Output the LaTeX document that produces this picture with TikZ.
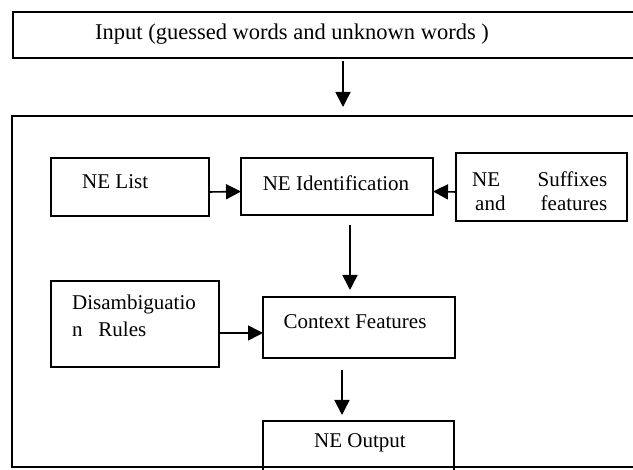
\documentclass[tikz,border=0pt]{standalone}
\usepackage{fontspec}
\setmainfont{Liberation Serif}
\usetikzlibrary{arrows.meta}
\newcommand*\boxrule{1.3pt}
\newcommand*\textsize{\fontsize{21}{24}\selectfont}
\tikzset{
    unitbox/.style  = {draw, line width=\boxrule, inner sep=0pt, outer sep=0pt,
                      anchor=north west},
    boxtext/.style  = {inner sep=0pt, font=\textsize, align=left},
    flow/.style     = {line width=1.6pt, -{Triangle[length=15pt,width=15pt]}},
  }
\begin{document}
\begin{tikzpicture}[x=1pt,y=-1pt]
        \useasboundingbox (0,0) rectangle (633,470);
        \clip (0,0) rectangle (633,470);

        % input strip and big frame run past the right edge
        \node[unitbox, minimum width=650, minimum height=46] (input) at (13,12) {};
        \node[boxtext, anchor=west, font=\fontsize{22.5}{26}\selectfont] (inputtext) at (95,34)
            {Input (guessed words and unknown words )};
        \node[unitbox, minimum width=650, minimum height=351] (frame) at (12,116) {};

        % row 1: list, identification, suffixes
        \node[unitbox, minimum width=158, minimum height=58] (nelist) at (51,158) {};
        \node[boxtext, anchor=west] (nelisttext) at (82,182) {NE List};
        \node[unitbox, minimum width=192, minimum height=57] (neid) at (241,158) {};
        \node[boxtext] (neidtext) at (336,183) {NE Identification};
        \node[unitbox, minimum width=171, minimum height=68] (suffix) at (456,153) {};
        \node[boxtext, anchor=west] (suffixtext) at (472,191)
            {\makebox[135pt]{NE\hfill Suffixes}\\\hspace*{3pt}\makebox[132pt]{and\hfill features}};

        % row 2: rules and context
        \node[unitbox, minimum width=168, minimum height=86] (disamb) at (51,281) {};
        \node[boxtext, anchor=west, font=\fontsize{21}{27}\selectfont] (disambtext) at (72,316)
            {Disambiguatio\\n\ \ \ Rules};
        \node[unitbox, minimum width=192, minimum height=61] (context) at (263,297) {};
        \node[boxtext] (contexttext) at (355,322) {Context Features};

        % output, cut by the bottom edge
        \node[unitbox, minimum width=191, minimum height=60] (neout) at (263,421) {};
        \node[boxtext] (neouttext) at (360,443) {NE Output};

        % arrows
        \draw[flow] ([xshift=5pt,yshift=-3pt]input.south) -- ([xshift=6pt,yshift=9pt]frame.north);
        \draw[flow] ([yshift=-5pt]nelist.east) -- ([yshift=-5pt]neid.west);
        \draw[flow] ([yshift=-5pt]suffix.west) -- ([yshift=-5pt]neid.east);
        \draw[flow] ([xshift=13pt,yshift=-10pt]neid.south) -- ([xshift=-9pt,yshift=7pt]context.north);
        \draw[flow] ([yshift=-9pt]disamb.east) -- ([yshift=-5.5pt]context.west);
        \draw[flow] ([xshift=-17pt,yshift=-12pt]context.south) -- ([xshift=-16.5pt,yshift=6pt]neout.north);
    \end{tikzpicture}
\end{document}
